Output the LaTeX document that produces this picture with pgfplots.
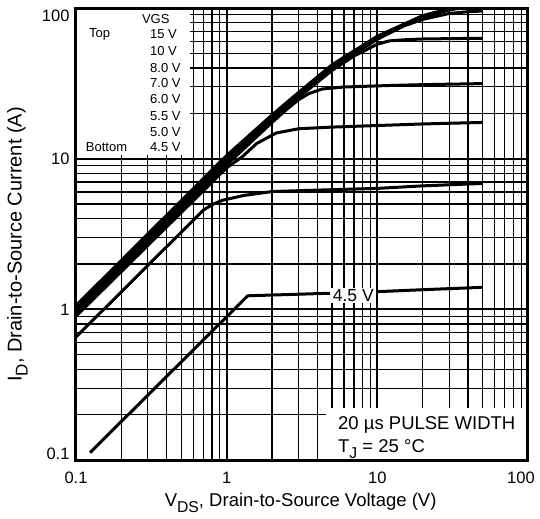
\documentclass[border=0pt]{standalone}
\usepackage{fontspec}
\setmainfont{Liberation Sans}
\usepackage{pgfplots}
\pgfplotsset{compat=1.18}
\newcommand\sub[1]{\raisebox{-0.3em}{\scalebox{0.85}{#1}}}
\newcommand\legfont{\fontsize{13bp}{15bp}\selectfont}

\begin{document}
\begin{tikzpicture}
\useasboundingbox (-76bp,-59bp) rectangle (464bp,460bp);
\begin{axis}[
  at={(0,0)}, anchor=south west,
  scale only axis, width=452bp, height=452bp,
  xmode=log, ymode=log,
  xmin=0.1, xmax=100, ymin=0.1, ymax=100,
  enlargelimits=false,
  clip mode=individual,
  xtick={0.1,1,10,100}, ytick={0.1,1,10,100},
  xticklabels={0.1,1,10,{\hspace*{-14bp}100}},
  yticklabels={{\raisebox{1bp}[0pt][0pt]{0.1}},1,10,{\raisebox{-13bp}[0pt][0pt]{100}}},
  /pgf/number format/assume math mode=true,
  major tick length=0pt, minor tick length=0pt,
  grid=both,
  major grid style={black, line width=2.2bp},
  minor grid style={black, line width=1.2bp},
  axis line style={black, line width=3bp},
  xticklabel style={font=\fontsize{16.5bp}{19bp}\selectfont, yshift=-8.5bp},
  yticklabel style={font=\fontsize{16.5bp}{19bp}\selectfont, xshift=-3bp},
  xlabel={V\sub{DS}, Drain-to-Source Voltage (V)},
  ylabel={I\sub{D}, Drain-to-Source Current (A)},
  every axis x label/.style={at={(rel axis cs:0.497,0)}, yshift=-46.7bp, anchor=base,
    font=\fontsize{18.5bp}{22bp}\selectfont},
  every axis y label/.style={at={(rel axis cs:0,0.477)}, xshift=-54.3bp, rotate=90, anchor=base,
    font=\fontsize{20bp}{24bp}\selectfont},
  cycle list={{black}},
  every axis plot post/.append style={black, solid, line width=3bp, mark=none, line join=round},
]
% white boxes over the grid
\fill[white] (axis cs:0.1,10.6) rectangle (axis cs:0.57,100);
\fill[white] (axis cs:4.57,0.1) rectangle (axis cs:100,0.221);

% VGS = 4.5 V
\addplot coordinates {(0.124,0.112) (1.38,1.23) (5,1.28) (10,1.31) (20,1.35) (50,1.40)};
% 5.0 V
\addplot coordinates {(0.1,0.655) (0.7,4.55) (0.8,4.95) (0.94,5.3) (1.3,5.7) (2,6.05) (3.3,6.15) (10,6.35) (20,6.6) (50,6.85)};
% 5.5 V
\addplot coordinates {(0.1,0.9) (1.0,8.7) (1.27,10.3) (1.58,12.6) (2.13,14.8) (3.0,15.8) (5,16.2) (12,16.7) (20,17.0) (50,17.4)};
% 6.0 V
\addplot coordinates {(0.1,0.94) (1,9.1) (2,17.4) (2.5,21.2) (3.0,24.6) (3.5,27.0) (4.3,29.0) (6,29.9) (12,30.6) (20,31.0) (50,31.5)};
% 7.0 V
\addplot coordinates {(0.1,0.97) (1,9.4) (2,18.0) (3,25.5) (5,38.5) (7,48) (10,57.5) (12,60.5) (15,61.5) (20,62.3) (50,63)};
% 8.0 V
\addplot coordinates {(0.1,1.0) (1,9.8) (2,18.7) (3,26.5) (5,40) (10,62) (15,76) (20,84) (30,92) (40,94.5) (50,95.5)};
% 10 V
\addplot coordinates {(0.1,1.03) (1,10.1) (2,19.1) (3,27) (5,41) (10,64) (20,87) (30,97) (40,102) (50,105)};
% 15 V
\addplot coordinates {(0.1,1.06) (1,10.5) (2,19.5) (3,27.5) (5,42) (10,65) (20,89) (30,99) (40,104) (50,108)};

\node[fill=white, inner xsep=2.5bp, inner ysep=1.5bp, font=\fontsize{17.5bp}{20bp}\selectfont]
  at (axis cs:6.93,1.24) {4.5 V};

% legend
\node[font=\legfont] at (rel axis cs:0.1765,0.975) {VGS};
\node[font=\legfont, anchor=west, inner sep=0pt] at (rel axis cs:0.0288,0.9418) {Top};
\node[font=\legfont, anchor=west, inner sep=0pt] at (rel axis cs:0.0215,0.6925) {Bottom};
\node[font=\legfont, anchor=west, inner sep=0pt] at (rel axis cs:0.1637,0.9418) {15 V};
\node[font=\legfont, anchor=west, inner sep=0pt] at (rel axis cs:0.1637,0.9055) {10 V};
\node[font=\legfont, anchor=west, inner sep=0pt] at (rel axis cs:0.1637,0.8673) {8.0 V};
\node[font=\legfont, anchor=west, inner sep=0pt] at (rel axis cs:0.1637,0.8340) {7.0 V};
\node[font=\legfont, anchor=west, inner sep=0pt] at (rel axis cs:0.1637,0.7987) {6.0 V};
\node[font=\legfont, anchor=west, inner sep=0pt] at (rel axis cs:0.1637,0.7611) {5.5 V};
\node[font=\legfont, anchor=west, inner sep=0pt] at (rel axis cs:0.1637,0.7257) {5.0 V};
\node[font=\legfont, anchor=west, inner sep=0pt] at (rel axis cs:0.1637,0.6925) {4.5 V};

% conditions
\node[anchor=base west, inner sep=0pt, font=\fontsize{18.5bp}{22bp}\selectfont]
  at (rel axis cs:0.5796,0.0664) {20 µs PULSE WIDTH};
\node[anchor=base west, inner sep=0pt, font=\fontsize{18.5bp}{22bp}\selectfont]
  at (rel axis cs:0.5796,0.016) {T\sub{J} = 25 °C};

\draw[black, line width=3bp] (rel axis cs:0,0) rectangle (rel axis cs:1,1);
\end{axis}
\end{tikzpicture}
\end{document}
